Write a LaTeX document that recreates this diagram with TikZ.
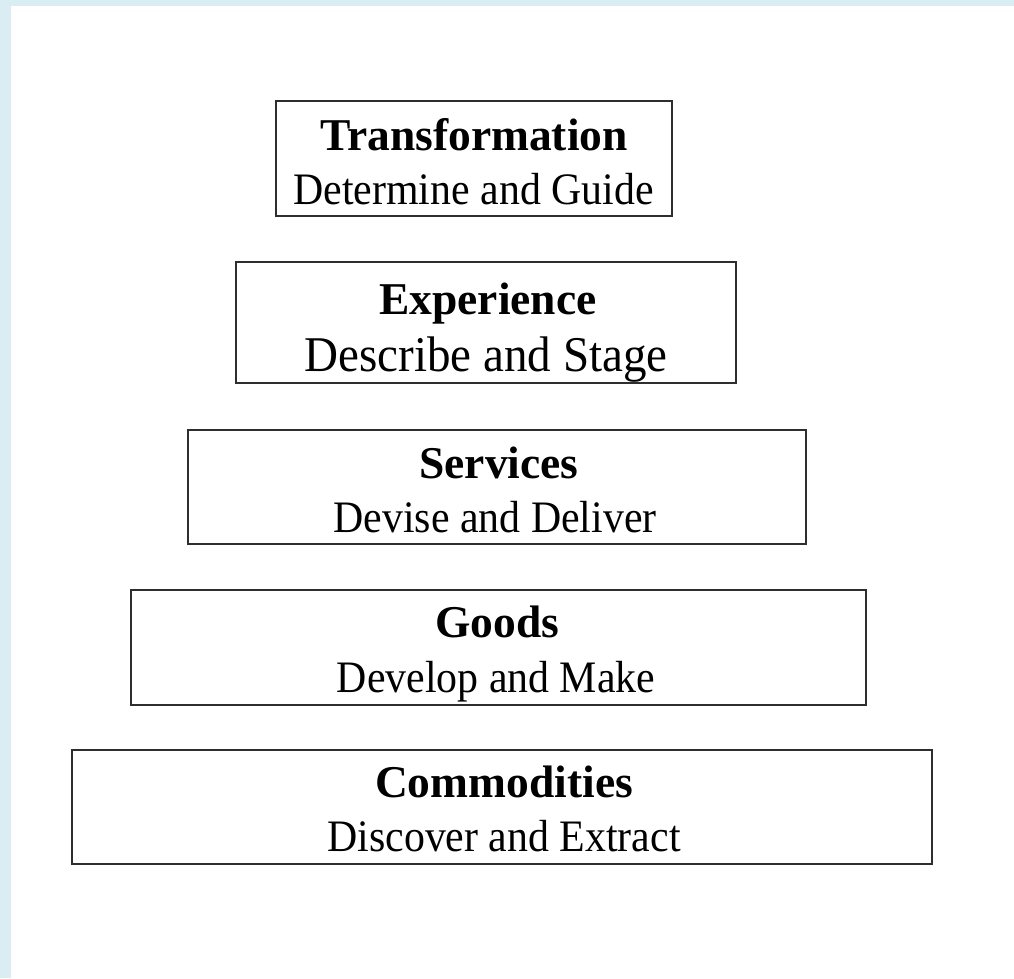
\documentclass[tikz,border=0pt]{standalone}
\usepackage{graphicx}
\usepackage{fontspec}
\setmainfont{Liberation Serif}
\definecolor{pagetint}{HTML}{DAEDF3}
\newcommand\narrowed[2]{\scalebox{#1}[1]{#2}}
\tikzset{
  tier/.style={draw=black!82, line width=1.7pt, inner sep=0pt},
  headline/.style={anchor=base, inner sep=0pt, font=\fontsize{45.5}{50}\selectfont\bfseries},
  subline/.style={anchor=base, inner sep=0pt, font=\fontsize{45}{50}\selectfont},
}
\begin{document}
\begin{tikzpicture}[x=1pt, y=-1pt]
  \useasboundingbox (0,0) rectangle (1014,978);
  % page tint along the top and left edges
  \fill[pagetint] (0,0) rectangle (1014,978);
  \fill[white] (11,6) rectangle (1014,978);

  % tiers, narrow at the top and wide at the base
  \node[tier, minimum width=396pt, minimum height=115pt] (transformation) at (474,158.5) {};
  \node[tier, minimum width=500pt, minimum height=121pt] (experience) at (486,322.5) {};
  \node[tier, minimum width=618pt, minimum height=114pt] (services) at (497,487) {};
  \node[tier, minimum width=735pt, minimum height=115pt] (goods) at (498.5,647.5) {};
  \node[tier, minimum width=860pt, minimum height=114pt] (commodities) at (502,807) {};

  % titles and verbs of each tier
  \node[headline] (t1) at (474,150) {Transformation};
  \node[subline]  (s1) at (473.5,204) {\narrowed{0.93}{Determine and Guide}};
  \node[headline] (t2) at (488,314) {Experience};
  \node[subline, font=\fontsize{50}{54}\selectfont] (s2) at (486,371) {\narrowed{0.94}{Describe and Stage}};
  \node[headline] (t3) at (499,478) {Services};
  \node[subline]  (s3) at (495,532) {\narrowed{0.93}{Devise and Deliver}};
  \node[headline] (t4) at (497.5,637) {Goods};
  \node[subline]  (s4) at (496,692) {\narrowed{0.93}{Develop and Make}};
  \node[headline] (t5) at (504,797) {Commodities};
  \node[subline]  (s5) at (504,851) {\narrowed{0.93}{Discover and Extract}};
\end{tikzpicture}
\end{document}
